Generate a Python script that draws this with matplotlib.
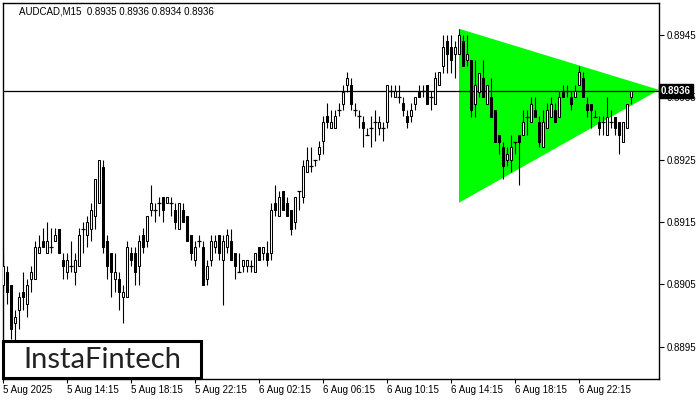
import matplotlib.pyplot as plt
from matplotlib.patches import Rectangle
import matplotlib.transforms as mtransforms

# chart data (AUDCAD M15), one value per bar
title = 'AUDCAD,M15  0.8935 0.8936 0.8934 0.8936'

opens = [
    0.89049, 0.89070, 0.89049, 0.88988, 0.89009, 0.89038, 0.89019, 0.89059, 0.89059, 0.89100,
    0.89120, 0.89100, 0.89110, 0.89120, 0.89139, 0.89089, 0.89070, 0.89080, 0.89070, 0.89080,
    0.89139, 0.89129, 0.89139, 0.89160, 0.89181, 0.89238, 0.89120, 0.89100, 0.89059, 0.89059,
    0.89030, 0.89030, 0.89100, 0.89100, 0.89080, 0.89129, 0.89120, 0.89169, 0.89169, 0.89181,
    0.89190, 0.89181, 0.89181, 0.89169, 0.89139, 0.89169, 0.89160, 0.89129, 0.89089, 0.89120,
    0.89110, 0.89059, 0.89089, 0.89110, 0.89129, 0.89089, 0.89110, 0.89120, 0.89100, 0.89070,
    0.89080, 0.89080, 0.89080, 0.89070, 0.89110, 0.89100, 0.89100, 0.89100, 0.89181, 0.89160,
    0.89200, 0.89181, 0.89169, 0.89150, 0.89200, 0.89190, 0.89230, 0.89240, 0.89250, 0.89259,
    0.89280, 0.89320, 0.89301, 0.89301, 0.89330, 0.89339, 0.89370, 0.89370, 0.89330, 0.89320,
    0.89310, 0.89290, 0.89301, 0.89310, 0.89301, 0.89301, 0.89310, 0.89360, 0.89351, 0.89351,
    0.89341, 0.89320, 0.89320, 0.89339, 0.89360, 0.89360, 0.89370, 0.89351, 0.89339, 0.89370,
    0.89400, 0.89440, 0.89431, 0.89419, 0.89419, 0.89440, 0.89410, 0.89410, 0.89339, 0.89359,
    0.89381, 0.89339, 0.89351, 0.89330, 0.89290, 0.89270, 0.89250, 0.89250, 0.89278, 0.89290,
    0.89290, 0.89318, 0.89310, 0.89330, 0.89310, 0.89270, 0.89301, 0.89318, 0.89330, 0.89318,
    0.89360, 0.89360, 0.89351, 0.89351, 0.89370, 0.89381, 0.89339, 0.89339, 0.89318, 0.89310,
    0.89310, 0.89290, 0.89310, 0.89318, 0.89310, 0.89278, 0.89301, 0.89351]

highs = [
    0.89100, 0.89080, 0.89049, 0.89009, 0.89038, 0.89070, 0.89059, 0.89080, 0.89120, 0.89129,
    0.89141, 0.89150, 0.89141, 0.89141, 0.89139, 0.89100, 0.89100, 0.89120, 0.89100, 0.89141,
    0.89150, 0.89160, 0.89181, 0.89219, 0.89250, 0.89250, 0.89129, 0.89100, 0.89100, 0.89070,
    0.89049, 0.89120, 0.89110, 0.89110, 0.89129, 0.89141, 0.89160, 0.89209, 0.89181, 0.89190,
    0.89190, 0.89190, 0.89190, 0.89181, 0.89181, 0.89181, 0.89160, 0.89129, 0.89120, 0.89129,
    0.89120, 0.89089, 0.89129, 0.89129, 0.89129, 0.89129, 0.89139, 0.89139, 0.89100, 0.89100,
    0.89089, 0.89089, 0.89089, 0.89100, 0.89110, 0.89110, 0.89120, 0.89181, 0.89209, 0.89200,
    0.89200, 0.89190, 0.89169, 0.89190, 0.89200, 0.89250, 0.89270, 0.89270, 0.89250, 0.89280,
    0.89320, 0.89341, 0.89330, 0.89330, 0.89341, 0.89370, 0.89391, 0.89381, 0.89341, 0.89330,
    0.89320, 0.89301, 0.89320, 0.89330, 0.89320, 0.89310, 0.89370, 0.89370, 0.89370, 0.89370,
    0.89351, 0.89330, 0.89341, 0.89351, 0.89370, 0.89370, 0.89370, 0.89360, 0.89391, 0.89391,
    0.89450, 0.89450, 0.89450, 0.89440, 0.89460, 0.89450, 0.89450, 0.89410, 0.89410, 0.89389,
    0.89410, 0.89370, 0.89381, 0.89330, 0.89290, 0.89278, 0.89270, 0.89290, 0.89278, 0.89290,
    0.89330, 0.89330, 0.89351, 0.89351, 0.89320, 0.89330, 0.89341, 0.89351, 0.89341, 0.89360,
    0.89370, 0.89370, 0.89360, 0.89370, 0.89400, 0.89391, 0.89351, 0.89339, 0.89330, 0.89320,
    0.89320, 0.89351, 0.89330, 0.89318, 0.89310, 0.89310, 0.89339, 0.89360]

lows = [
    0.89038, 0.89019, 0.88963, 0.88961, 0.88979, 0.89009, 0.88998, 0.89038, 0.89059, 0.89100,
    0.89110, 0.89100, 0.89100, 0.89120, 0.89100, 0.89059, 0.89059, 0.89070, 0.89049, 0.89080,
    0.89100, 0.89110, 0.89120, 0.89139, 0.89181, 0.89100, 0.89059, 0.89030, 0.89038, 0.89009,
    0.88988, 0.89030, 0.89080, 0.89049, 0.89049, 0.89100, 0.89110, 0.89160, 0.89150, 0.89160,
    0.89150, 0.89181, 0.89160, 0.89139, 0.89139, 0.89150, 0.89120, 0.89089, 0.89080, 0.89110,
    0.89049, 0.89049, 0.89080, 0.89100, 0.89089, 0.89017, 0.89100, 0.89089, 0.89059, 0.89070,
    0.89070, 0.89070, 0.89070, 0.89070, 0.89089, 0.89089, 0.89080, 0.89089, 0.89160, 0.89160,
    0.89169, 0.89160, 0.89129, 0.89139, 0.89169, 0.89181, 0.89230, 0.89230, 0.89240, 0.89250,
    0.89259, 0.89301, 0.89301, 0.89301, 0.89320, 0.89330, 0.89359, 0.89330, 0.89320, 0.89301,
    0.89270, 0.89290, 0.89270, 0.89280, 0.89290, 0.89280, 0.89301, 0.89351, 0.89351, 0.89341,
    0.89320, 0.89301, 0.89310, 0.89330, 0.89351, 0.89351, 0.89339, 0.89330, 0.89339, 0.89370,
    0.89389, 0.89389, 0.89389, 0.89381, 0.89419, 0.89400, 0.89400, 0.89318, 0.89318, 0.89351,
    0.89351, 0.89339, 0.89318, 0.89278, 0.89259, 0.89219, 0.89240, 0.89230, 0.89259, 0.89209,
    0.89290, 0.89290, 0.89310, 0.89318, 0.89270, 0.89270, 0.89301, 0.89318, 0.89310, 0.89318,
    0.89351, 0.89351, 0.89330, 0.89351, 0.89370, 0.89351, 0.89318, 0.89301, 0.89318, 0.89290,
    0.89290, 0.89290, 0.89301, 0.89290, 0.89259, 0.89278, 0.89301, 0.89339]

closes = [
    0.89080, 0.89038, 0.88979, 0.88998, 0.89030, 0.89030, 0.89049, 0.89070, 0.89110, 0.89110,
    0.89110, 0.89120, 0.89110, 0.89129, 0.89100, 0.89080, 0.89089, 0.89080, 0.89089, 0.89129,
    0.89139, 0.89150, 0.89169, 0.89219, 0.89250, 0.89110, 0.89080, 0.89070, 0.89070, 0.89038,
    0.89038, 0.89110, 0.89089, 0.89070, 0.89120, 0.89110, 0.89160, 0.89181, 0.89169, 0.89181,
    0.89169, 0.89190, 0.89181, 0.89150, 0.89181, 0.89150, 0.89120, 0.89100, 0.89110, 0.89120,
    0.89049, 0.89080, 0.89120, 0.89120, 0.89100, 0.89120, 0.89129, 0.89089, 0.89080, 0.89070,
    0.89089, 0.89089, 0.89080, 0.89100, 0.89089, 0.89110, 0.89089, 0.89169, 0.89169, 0.89190,
    0.89169, 0.89160, 0.89139, 0.89190, 0.89200, 0.89240, 0.89250, 0.89240, 0.89250, 0.89270,
    0.89310, 0.89310, 0.89310, 0.89320, 0.89330, 0.89359, 0.89381, 0.89339, 0.89330, 0.89320,
    0.89301, 0.89290, 0.89301, 0.89310, 0.89310, 0.89301, 0.89370, 0.89360, 0.89360, 0.89351,
    0.89330, 0.89310, 0.89330, 0.89351, 0.89351, 0.89360, 0.89339, 0.89351, 0.89381, 0.89391,
    0.89431, 0.89419, 0.89410, 0.89431, 0.89450, 0.89400, 0.89419, 0.89330, 0.89370, 0.89389,
    0.89351, 0.89370, 0.89318, 0.89278, 0.89278, 0.89240, 0.89259, 0.89270, 0.89278, 0.89278,
    0.89310, 0.89318, 0.89339, 0.89318, 0.89278, 0.89310, 0.89330, 0.89339, 0.89310, 0.89351,
    0.89351, 0.89360, 0.89339, 0.89360, 0.89391, 0.89351, 0.89330, 0.89330, 0.89318, 0.89301,
    0.89310, 0.89318, 0.89310, 0.89301, 0.89290, 0.89310, 0.89339, 0.89360]

x_label_bars = [0, 16, 32, 48, 64, 80, 96, 112, 128, 144]
x_labels = ['5 Aug 2025', '5 Aug 14:15', '5 Aug 18:15', '5 Aug 22:15', '6 Aug 02:15',
            '6 Aug 06:15', '6 Aug 10:15', '6 Aug 14:15', '6 Aug 18:15', '6 Aug 22:15']
y_ticks = [0.8895, 0.8905, 0.8915, 0.8925, 0.8935, 0.8945]
last_price = 0.8936

# symmetrical triangle pattern (bar index, price)
tri_bars = [114, 164, 114]
tri_prices = [0.89460, 0.89362, 0.89181]

plt.rcParams['font.family'] = ['Liberation Sans', 'DejaVu Sans']

fig = plt.figure(figsize=(7, 4), dpi=100)
ax = fig.add_axes([3 / 700, 21 / 400, 656 / 700, 376 / 400])

# triangle
ax.fill(tri_bars, tri_prices, color='#00ff00', lw=0, zorder=1)

# price line
ax.axhline(last_price, color='black', lw=0.9, zorder=2)

# candles
bars = list(range(len(opens)))
ax.vlines(bars, lows, highs, color='black', lw=0.8, zorder=3)
for i in bars:
    o, c = opens[i], closes[i]
    if abs(c - o) < 1e-6:
        ax.hlines(o, i - 0.38, i + 0.38, color='black', lw=0.9, zorder=4)
    else:
        face = 'white' if c > o else 'black'
        ax.bar(i, abs(c - o), bottom=min(o, c), width=0.5, color=face,
               edgecolor='black', linewidth=0.75, zorder=4)

ax.set_xlim(0, 164)
ax.set_ylim(0.888985, 0.895012)

# axes styling like the trading terminal
for s in ax.spines.values():
    s.set_linewidth(1.0)
    s.set_color('black')

ax.yaxis.tick_right()
ax.set_yticks(y_ticks)
ax.set_yticklabels(['%.4f' % v for v in y_ticks])
ax.tick_params(axis='y', direction='out', length=3.5, width=0.8, pad=2, labelsize=7)

ax.set_xticks(x_label_bars)
ax.set_xticklabels(x_labels)
for lab in ax.get_xticklabels():
    lab.set_horizontalalignment('left')
ax.tick_params(axis='x', direction='out', length=3, width=0.8, pad=1.5, labelsize=7)

# title in the top-left
ax.text(16 / 656, 1 - 8 / 376, title, transform=ax.transAxes, fontsize=7,
        ha='left', va='center')

# current price box on the right axis (covers the 0.8935 label, as in the terminal)
trans = mtransforms.blended_transform_factory(ax.transAxes, ax.transData)
ax.text(1.003, last_price, '%.4f' % last_price, transform=trans, fontsize=7,
        color='white', fontweight='bold', ha='left', va='center', clip_on=False,
        zorder=10, bbox=dict(boxstyle='square,pad=0.2', fc='black', ec='black'))

# logo box
fig.patches.append(Rectangle((3 / 700, 22 / 400), 198 / 700, 37 / 400, transform=fig.transFigure,
                             facecolor='white', edgecolor='black', linewidth=2.2, zorder=20))
fig.text(102 / 700, 40 / 400, 'InstaFintech', fontsize=21, family=['Lato', 'DejaVu Sans'],
         color='#222222', ha='center', va='center', zorder=21)

fig.savefig('out.png', dpi=100)
